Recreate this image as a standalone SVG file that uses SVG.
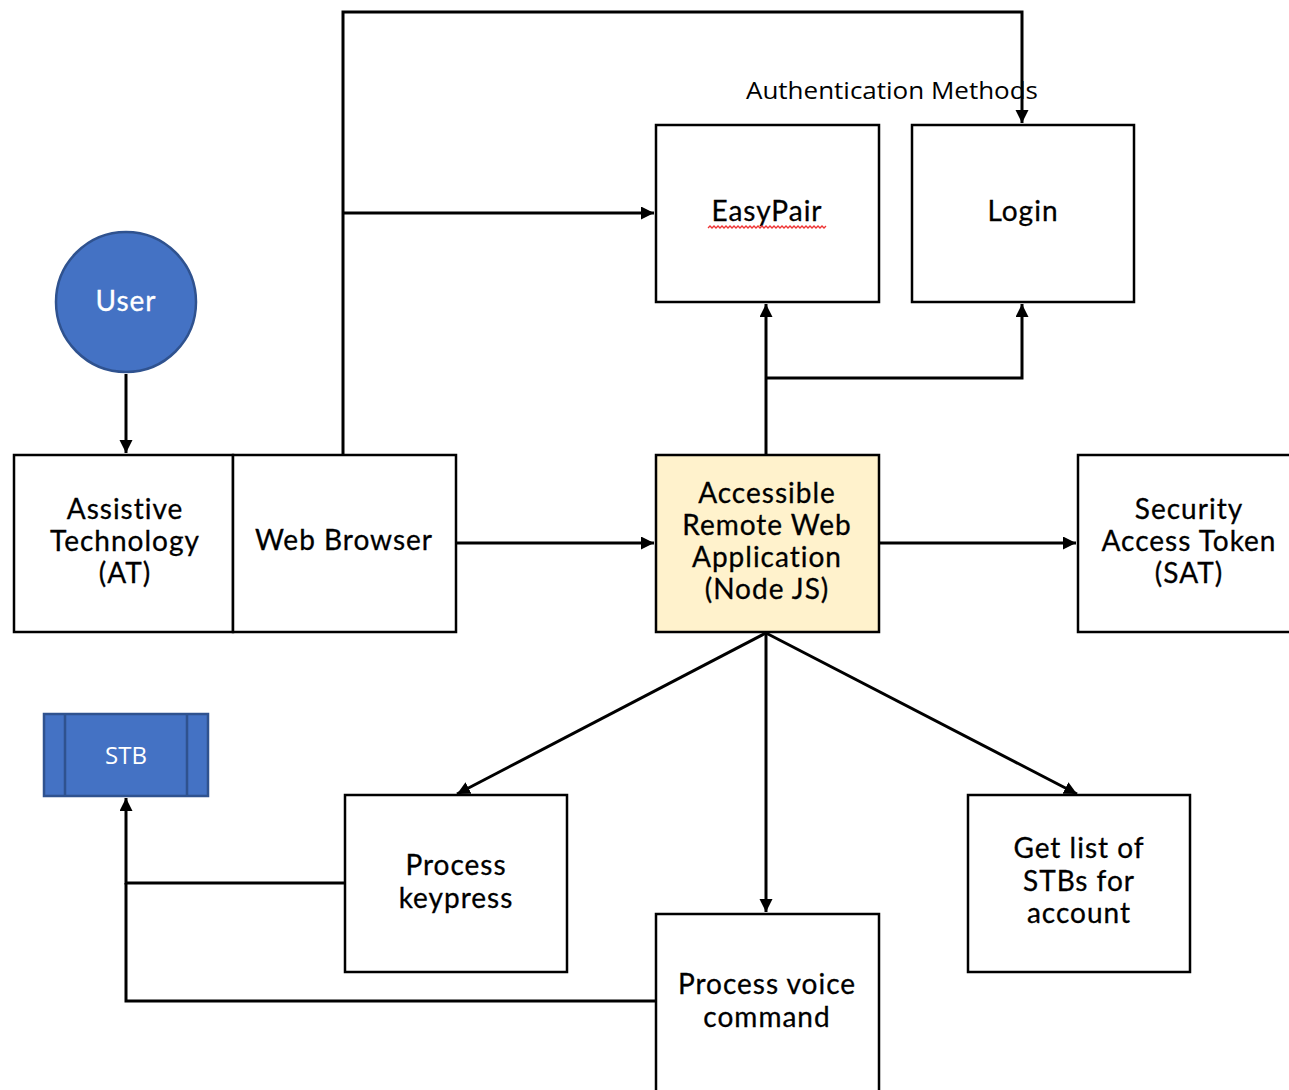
<svg xmlns="http://www.w3.org/2000/svg" width="1289" height="1090" viewBox="0 0 1289 1090">
<style>
.box{fill:#fff;stroke:#000;stroke-width:2.5}
.lbl{font-family:Lato,"Noto Sans",sans-serif;font-size:28px;letter-spacing:1px;fill:#000;text-anchor:middle;stroke:#000;stroke-width:0.3}
.con{fill:none;stroke:#000;stroke-width:3}
.blue{fill:#4472C4;stroke:#2F528F;stroke-width:2.5}
</style>
<defs>
<marker id="arr" markerUnits="userSpaceOnUse" markerWidth="14" markerHeight="14" refX="13" refY="6.5" orient="auto">
<path d="M0,0 L13,6.5 L0,13 z" fill="#000"/>
</marker>
</defs>
<rect width="1289" height="1090" fill="#fff"/>
<g id="connectors">
<path class="con" d="M126,374 V453" marker-end="url(#arr)"/>
<path class="con" d="M343,455 V12 H1022 V123" marker-end="url(#arr)"/>
<path class="con" d="M343,213 H654" marker-end="url(#arr)"/>
<path class="con" d="M457,543 H654" marker-end="url(#arr)"/>
<path class="con" d="M766,455 V304" marker-end="url(#arr)"/>
<path class="con" d="M766,378 H1022 V304" marker-end="url(#arr)"/>
<path class="con" d="M879,543 H1076" marker-end="url(#arr)"/>
<path class="con" d="M766,633 L457,794" marker-end="url(#arr)"/>
<path class="con" d="M766,633 V912" marker-end="url(#arr)"/>
<path class="con" d="M766,633 L1077,794" marker-end="url(#arr)"/>
<path class="con" d="M345,883 H126 V798" marker-end="url(#arr)"/>
<path class="con" d="M656,1001 H126 V883"/>
</g>
<text x="892" y="99" font-family="'Open Sans',sans-serif" font-size="23" text-anchor="middle" textLength="292" lengthAdjust="spacingAndGlyphs">Authentication Methods</text>
<g id="user">
<circle class="blue" cx="126" cy="302" r="70"/>
<text class="lbl" x="126" y="311" style="fill:#fff;stroke:#fff">User</text>
</g>
<g id="at">
<rect class="box" x="14" y="455" width="219" height="177"/>
<text class="lbl" x="125" y="519">Assistive</text>
<text class="lbl" x="125" y="551">Technology</text>
<text class="lbl" x="125" y="583">(AT)</text>
</g>
<g id="browser">
<rect class="box" x="233" y="455" width="223" height="177"/>
<text class="lbl" x="344" y="550">Web Browser</text>
</g>
<g id="app">
<rect class="box" x="656" y="455" width="223" height="177" style="fill:#FFF2CC"/>
<text class="lbl" x="767" y="503">Accessible</text>
<text class="lbl" x="767" y="535">Remote Web</text>
<text class="lbl" x="767" y="567">Application</text>
<text class="lbl" x="767" y="599">(Node JS)</text>
</g>
<g id="sat">
<rect class="box" x="1078" y="455" width="225" height="177"/>
<text class="lbl" x="1189" y="519">Security</text>
<text class="lbl" x="1189" y="551">Access Token</text>
<text class="lbl" x="1189" y="583">(SAT)</text>
</g>
<g id="easypair">
<rect class="box" x="656" y="125" width="223" height="177"/>
<text class="lbl" x="767" y="221">EasyPair</text>
<path d="M708,228 l2,-2 l2,2 l2,-2 l2,2 l2,-2 l2,2 l2,-2 l2,2 l2,-2 l2,2 l2,-2 l2,2 l2,-2 l2,2 l2,-2 l2,2 l2,-2 l2,2 l2,-2 l2,2 l2,-2 l2,2 l2,-2 l2,2 l2,-2 l2,2 l2,-2 l2,2 l2,-2 l2,2 l2,-2 l2,2 l2,-2 l2,2 l2,-2 l2,2 l2,-2 l2,2 l2,-2 l2,2 l2,-2 l2,2 l2,-2 l2,2 l2,-2 l2,2 l2,-2 l2,2 l2,-2 l2,2 l2,-2 l2,2 l2,-2 l2,2 l2,-2 l2,2 l2,-2 l2,2 l2,-2" fill="none" stroke="#e33" stroke-width="1.3"/>
</g>
<g id="login">
<rect class="box" x="912" y="125" width="222" height="177"/>
<text class="lbl" x="1023" y="221">Login</text>
</g>
<g id="stb">
<rect class="blue" x="44" y="714" width="164" height="82"/>
<line x1="65" y1="714" x2="65" y2="796" stroke="#2F528F" stroke-width="2.5"/>
<line x1="187" y1="714" x2="187" y2="796" stroke="#2F528F" stroke-width="2.5"/>
<text x="126" y="764" font-family="'Open Sans',sans-serif" font-size="24" fill="#fff" text-anchor="middle">STB</text>
</g>
<g id="keypress">
<rect class="box" x="345" y="795" width="222" height="177"/>
<text class="lbl" x="456" y="875">Process</text>
<text class="lbl" x="456" y="908">keypress</text>
</g>
<g id="voice">
<rect class="box" x="656" y="914" width="223" height="190"/>
<text class="lbl" x="767" y="994">Process voice</text>
<text class="lbl" x="767" y="1027">command</text>
</g>
<g id="stbs">
<rect class="box" x="968" y="795" width="222" height="177"/>
<text class="lbl" x="1079" y="858">Get list of</text>
<text class="lbl" x="1079" y="891">STBs for</text>
<text class="lbl" x="1079" y="923">account</text>
</g>
</svg>
